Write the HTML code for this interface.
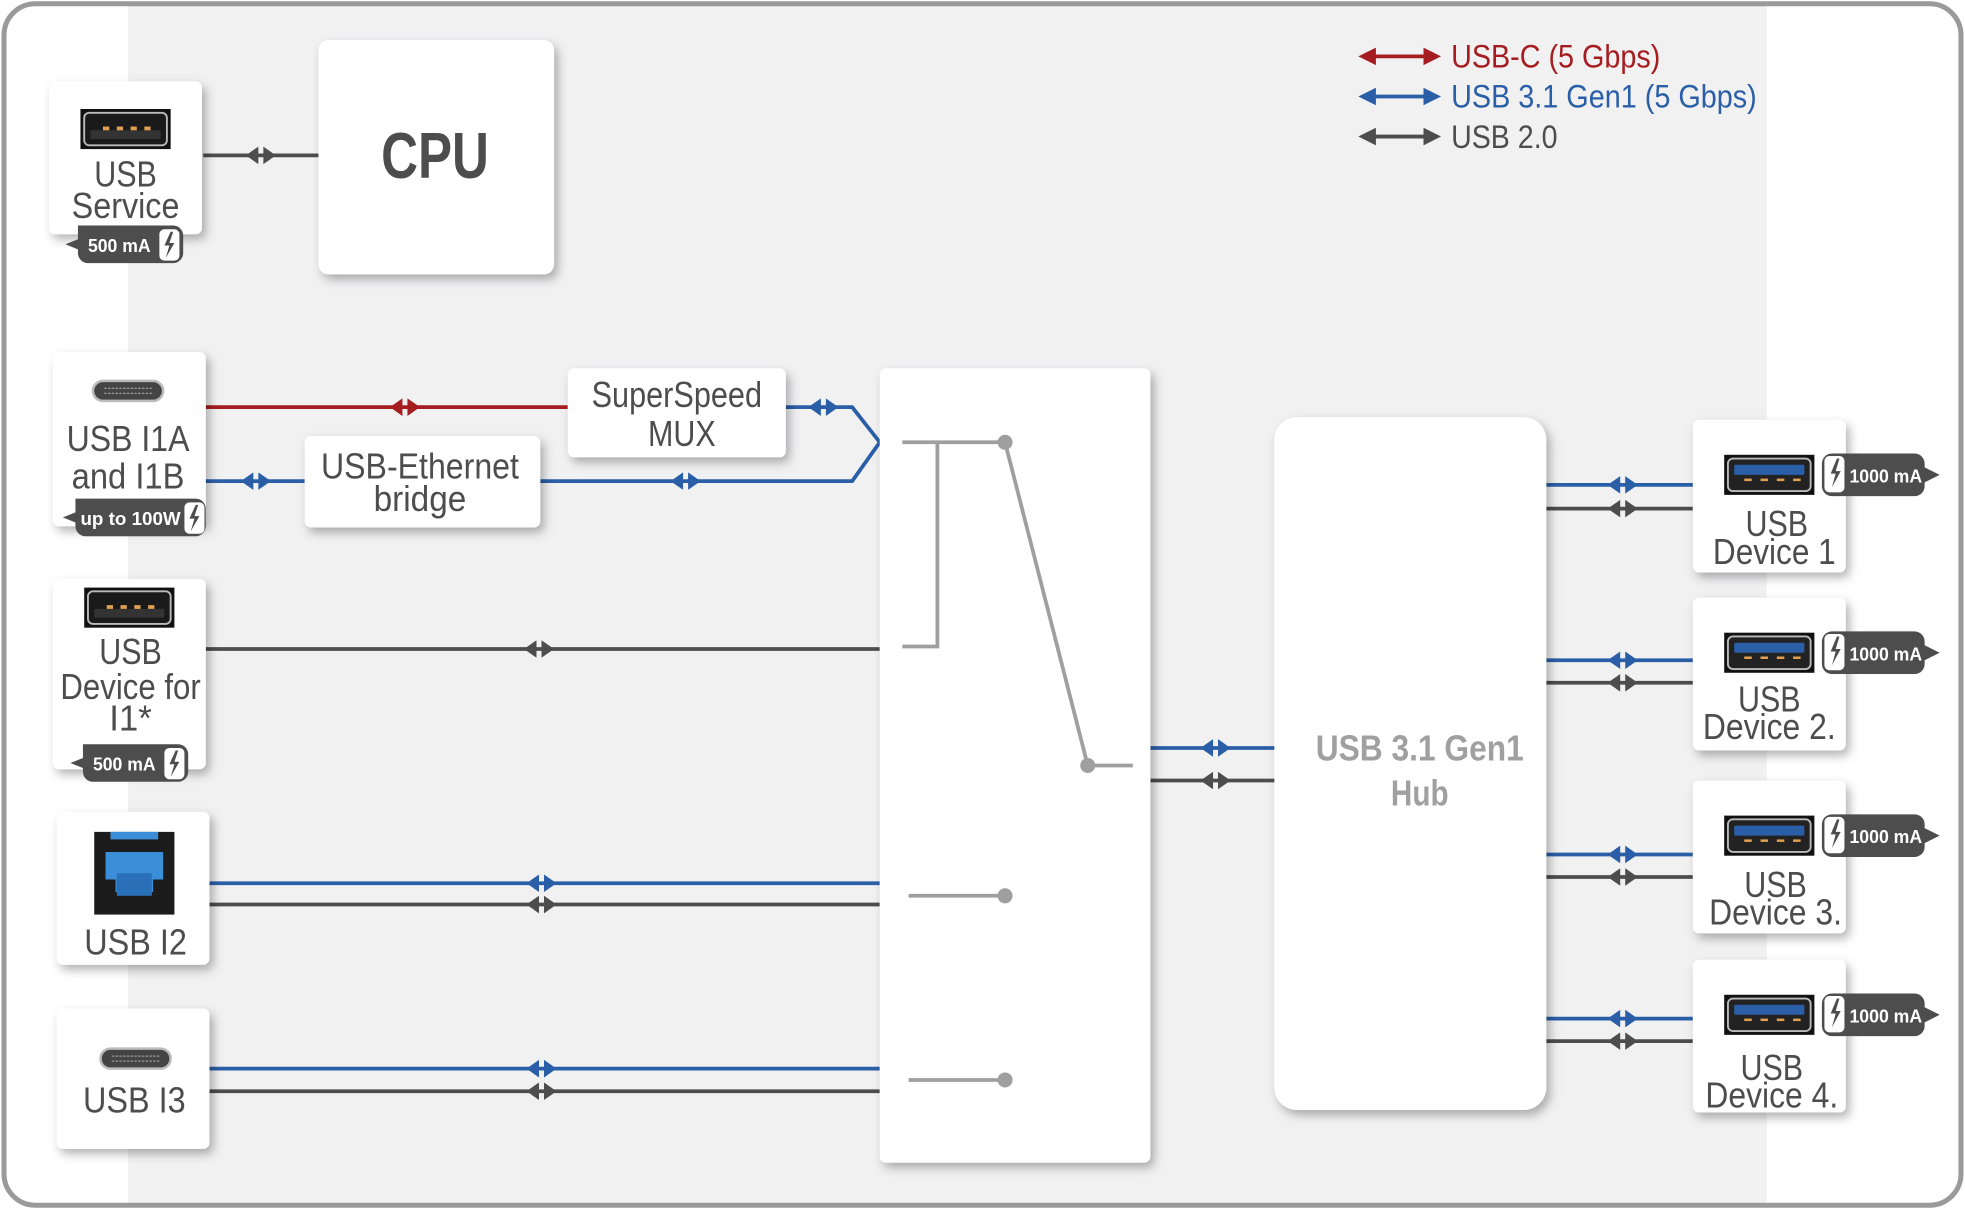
<!DOCTYPE html>
<html><head><meta charset="utf-8"><style>
html,body{margin:0;padding:0;background:#fff;}
svg{display:block;}
text{font-family:"Liberation Sans",sans-serif;}
</style></head><body>
<svg width="1965" height="1209" viewBox="0 0 1568 965" xmlns="http://www.w3.org/2000/svg">
<defs>
<filter id="sh" x="-20%" y="-20%" width="150%" height="150%"><feDropShadow dx="3" dy="4" stdDeviation="4" flood-color="#000" flood-opacity="0.3"/></filter>
<clipPath id="oc"><rect x="3" y="3" width="1562" height="959" rx="25"/></clipPath>
<g id="ar"><polygon points="-12,0 -2,-7 -2,7"/><polygon points="12,0 2,-7 2,7"/></g>
<g id="usba"><rect x="0" y="0" width="72" height="32" fill="#111"/><rect x="3" y="3" width="66" height="26" rx="4" fill="#222" stroke="#bbb" stroke-width="1.5"/><rect x="8" y="8" width="56" height="8" rx="1" fill="#2a5fa8"/><g fill="#e0a050"><rect x="16" y="19" width="6" height="2"/><rect x="29" y="19" width="6" height="2"/><rect x="42" y="19" width="6" height="2"/><rect x="55" y="19" width="6" height="2"/></g></g>
<g id="usbk"><rect x="0" y="0" width="72" height="32" fill="#111"/><rect x="3" y="3" width="66" height="26" rx="4" fill="#1a1a1a" stroke="#bbb" stroke-width="1.5"/><rect x="8" y="17" width="56" height="7" rx="1" fill="#333"/><g fill="#e0a050"><rect x="18" y="14" width="5" height="3"/><rect x="29" y="14" width="5" height="3"/><rect x="40" y="14" width="5" height="3"/><rect x="51" y="14" width="5" height="3"/></g></g>
<g id="usbc"><rect x="0" y="0" width="56" height="16" rx="8" fill="#444" stroke="#bbb" stroke-width="2"/><line x1="9" y1="6" x2="47" y2="6" stroke="#999" stroke-dasharray="2,1"/><line x1="9" y1="10" x2="47" y2="10" stroke="#999" stroke-dasharray="2,1"/></g>
</defs>
<rect width="1568" height="965" fill="#fff"/>
<g clip-path="url(#oc)">
<rect x="102" y="0" width="1308" height="965" fill="#f1f1f2"/>
</g>
<rect x="3" y="3" width="1562" height="959" rx="25" fill="none" stroke="#9a9a9a" stroke-width="4"/>

<!-- lines -->
<g stroke-width="3" fill="none">
<line x1="162" y1="124" x2="254" y2="124" stroke="#4d4d4d"/>
<line x1="164" y1="325" x2="453" y2="325" stroke="#a51d21"/>
<polyline points="627,325 680,325 702,353" stroke="#2a5fa8"/>
<line x1="164" y1="384" x2="243" y2="384" stroke="#2a5fa8"/>
<polyline points="431,384 680,384 702,353" stroke="#2a5fa8"/>
<line x1="164" y1="518" x2="702" y2="518" stroke="#4d4d4d"/>
<line x1="167" y1="705" x2="702" y2="705" stroke="#2a5fa8"/>
<line x1="167" y1="722" x2="702" y2="722" stroke="#4d4d4d"/>
<line x1="167" y1="853" x2="702" y2="853" stroke="#2a5fa8"/>
<line x1="167" y1="871" x2="702" y2="871" stroke="#4d4d4d"/>
<line x1="918" y1="597" x2="1017" y2="597" stroke="#2a5fa8"/>
<line x1="918" y1="623" x2="1017" y2="623" stroke="#4d4d4d"/>
<line x1="1234" y1="387" x2="1351" y2="387" stroke="#2a5fa8"/>
<line x1="1234" y1="406" x2="1351" y2="406" stroke="#4d4d4d"/>
<line x1="1234" y1="527" x2="1351" y2="527" stroke="#2a5fa8"/>
<line x1="1234" y1="545" x2="1351" y2="545" stroke="#4d4d4d"/>
<line x1="1234" y1="682" x2="1351" y2="682" stroke="#2a5fa8"/>
<line x1="1234" y1="700" x2="1351" y2="700" stroke="#4d4d4d"/>
<line x1="1234" y1="813" x2="1351" y2="813" stroke="#2a5fa8"/>
<line x1="1234" y1="831" x2="1351" y2="831" stroke="#4d4d4d"/>
</g>
<g fill="#4d4d4d">
<use href="#ar" x="208" y="124"/><use href="#ar" x="430" y="518"/><use href="#ar" x="432" y="722"/><use href="#ar" x="432" y="871"/>
<use href="#ar" x="970" y="623"/><use href="#ar" x="1295" y="406"/><use href="#ar" x="1295" y="545"/><use href="#ar" x="1295" y="700"/><use href="#ar" x="1295" y="831"/>
</g>
<g fill="#2a5fa8">
<use href="#ar" x="657" y="325"/><use href="#ar" x="204" y="384"/><use href="#ar" x="547" y="384"/><use href="#ar" x="432" y="705"/><use href="#ar" x="432" y="853"/>
<use href="#ar" x="970" y="597"/><use href="#ar" x="1295" y="387"/><use href="#ar" x="1295" y="527"/><use href="#ar" x="1295" y="682"/><use href="#ar" x="1295" y="813"/>
</g>
<use href="#ar" x="323" y="325" fill="#a51d21"/>

<!-- boxes -->
<g fill="#fff" filter="url(#sh)">
<rect x="39" y="65" width="122" height="122" rx="5"/>
<rect x="254" y="32" width="188" height="187" rx="8"/>
<rect x="42" y="281" width="122" height="139" rx="5"/>
<rect x="453" y="294" width="174" height="71" rx="5"/>
<rect x="243" y="348" width="188" height="73" rx="5"/>
<rect x="42" y="462" width="122" height="152" rx="5"/>
<rect x="45" y="648" width="122" height="122" rx="5"/>
<rect x="45" y="805" width="122" height="112" rx="5"/>
<rect x="702" y="294" width="216" height="634" rx="5"/>
<rect x="1017" y="333" width="217" height="553" rx="18"/>
<rect x="1351" y="335" width="122" height="122" rx="5"/>
<rect x="1351" y="477" width="122" height="122" rx="5"/>
<rect x="1351" y="623" width="122" height="122" rx="5"/>
<rect x="1351" y="766" width="122" height="122" rx="5"/>
</g>

<!-- switch -->
<g stroke="#9f9f9f" stroke-width="3" fill="none">
<line x1="720" y1="353" x2="802" y2="353"/>
<polyline points="748,353 748,516 720,516"/>
<line x1="802" y1="353" x2="868" y2="611"/>
<line x1="868" y1="611" x2="904" y2="611"/>
<line x1="725" y1="715" x2="802" y2="715"/>
<line x1="725" y1="862" x2="802" y2="862"/>
</g>
<g fill="#9f9f9f"><circle cx="802" cy="353" r="6"/><circle cx="868" cy="611" r="6"/><circle cx="802" cy="715" r="6"/><circle cx="802" cy="862" r="6"/></g>

<!-- icons -->
<use href="#usbk" x="64" y="87"/>
<use href="#usbc" x="74" y="304"/>
<use href="#usbk" x="67" y="469"/>
<use href="#usbc" x="80" y="837"/>
<g><rect x="75" y="664" width="64" height="66" fill="#1c1c1c"/><rect x="88" y="664" width="38" height="6" fill="#3a8fd8"/><path d="M84 680 h46 v22 h-8 v10 h-30 v-10 h-8z" fill="#3a8fd8"/><rect x="93" y="697" width="28" height="18" fill="#2a70b8"/></g>
<use href="#usba" x="1376" y="363"/>
<use href="#usba" x="1376" y="505"/>
<use href="#usba" x="1376" y="651"/>
<use href="#usba" x="1376" y="794"/>

<!-- badges -->
<g fill="#4d4d4d">
<path d="M62 180 h76 a8 8 0 0 1 8 8 v14 a8 8 0 0 1 -8 8 h-68 a8 8 0 0 1 -8 -8 v-3 l-10 -4 l10 -4z"/>
<path d="M60 398 h96 a8 8 0 0 1 8 8 v14 a8 8 0 0 1 -8 8 h-88 a8 8 0 0 1 -8 -8 v-3 l-10 -4 l10 -4z"/>
<path d="M66 594 h76 a8 8 0 0 1 8 8 v14 a8 8 0 0 1 -8 8 h-68 a8 8 0 0 1 -8 -8 v-3 l-10 -4 l10 -4z"/>
</g>
<g fill="#fff">
<rect x="127" y="183" width="16" height="25" rx="4"/><rect x="147" y="401" width="16" height="25" rx="4"/><rect x="131" y="597" width="16" height="25" rx="4"/>
</g>
<g fill="#4d4d4d"><path d="M136 185 l-5 11 h4 l-3 10 l7 -12 h-4 l3 -9z"/><path d="M156 403 l-5 11 h4 l-3 10 l7 -12 h-4 l3 -9z"/><path d="M140 599 l-5 11 h4 l-3 10 l7 -12 h-4 l3 -9z"/></g>
<g font-weight="bold" fill="#fff" font-size="15">
<text x="70" y="201" textLength="50" lengthAdjust="spacingAndGlyphs">500 mA</text>
<text x="64" y="419" textLength="80" lengthAdjust="spacingAndGlyphs">up to 100W</text>
<text x="74" y="615" textLength="50" lengthAdjust="spacingAndGlyphs">500 mA</text>
</g>
<g id="b1">
<path d="M1462 362 h66 a8 8 0 0 1 8 8 v3 l12 6 l-12 6 v3 a8 8 0 0 1 -8 8 h-66 a8 8 0 0 1 -8 -8 v-18 a8 8 0 0 1 8 -8z" fill="#4d4d4d"/>
<rect x="1456" y="364" width="16" height="29" rx="4" fill="#fff"/>
<path d="M1466 366 l-5 12 h4 l-3 11 l7 -13 h-4 l3 -10z" fill="#4d4d4d"/>
</g>
<use href="#b1" y="142"/><use href="#b1" y="288"/><use href="#b1" y="431"/>
<g font-weight="bold" fill="#fff" font-size="15">
<text x="1476" y="385" textLength="58" lengthAdjust="spacingAndGlyphs">1000 mA</text>
<text x="1476" y="527" textLength="58" lengthAdjust="spacingAndGlyphs">1000 mA</text>
<text x="1476" y="673" textLength="58" lengthAdjust="spacingAndGlyphs">1000 mA</text>
<text x="1476" y="816" textLength="58" lengthAdjust="spacingAndGlyphs">1000 mA</text>
</g>

<!-- texts -->
<g fill="#4d4d4d" font-size="29" text-anchor="middle">
<text x="100" y="149" textLength="50" lengthAdjust="spacingAndGlyphs">USB</text>
<text x="100" y="174" textLength="86" lengthAdjust="spacingAndGlyphs">Service</text>
<text x="102" y="360" textLength="98" lengthAdjust="spacingAndGlyphs">USB I1A</text>
<text x="102" y="390" textLength="90" lengthAdjust="spacingAndGlyphs">and I1B</text>
<text x="540" y="325" textLength="136" lengthAdjust="spacingAndGlyphs">SuperSpeed</text>
<text x="544" y="356" textLength="54" lengthAdjust="spacingAndGlyphs">MUX</text>
<text x="335" y="382" textLength="158" lengthAdjust="spacingAndGlyphs">USB-Ethernet</text>
<text x="335" y="408" textLength="74" lengthAdjust="spacingAndGlyphs">bridge</text>
<text x="104" y="530" textLength="50" lengthAdjust="spacingAndGlyphs">USB</text>
<text x="104" y="558" textLength="112" lengthAdjust="spacingAndGlyphs">Device for</text>
<text x="104" y="583" textLength="34" lengthAdjust="spacingAndGlyphs">I1*</text>
<text x="108" y="762" textLength="82" lengthAdjust="spacingAndGlyphs">USB I2</text>
<text x="107" y="888" textLength="82" lengthAdjust="spacingAndGlyphs">USB I3</text>
<text x="1418" y="428" textLength="50" lengthAdjust="spacingAndGlyphs">USB</text>
<text x="1416" y="450" textLength="98" lengthAdjust="spacingAndGlyphs">Device 1</text>
<text x="1412" y="568" textLength="50" lengthAdjust="spacingAndGlyphs">USB</text>
<text x="1412" y="590" textLength="106" lengthAdjust="spacingAndGlyphs">Device 2.</text>
<text x="1417" y="716" textLength="50" lengthAdjust="spacingAndGlyphs">USB</text>
<text x="1417" y="738" textLength="106" lengthAdjust="spacingAndGlyphs">Device 3.</text>
<text x="1414" y="862" textLength="50" lengthAdjust="spacingAndGlyphs">USB</text>
<text x="1414" y="884" textLength="106" lengthAdjust="spacingAndGlyphs">Device 4.</text>
</g>
<text x="347" y="142" font-size="52" font-weight="bold" fill="#4d4d4d" text-anchor="middle" textLength="86" lengthAdjust="spacingAndGlyphs">CPU</text>
<g fill="#a0a0a0" font-size="29" font-weight="bold" text-anchor="middle">
<text x="1133" y="607" textLength="166" lengthAdjust="spacingAndGlyphs">USB 3.1 Gen1</text>
<text x="1133" y="643" textLength="46" lengthAdjust="spacingAndGlyphs">Hub</text>
</g>

<!-- legend -->
<g stroke-width="3">
<line x1="1090" y1="45" x2="1144" y2="45" stroke="#a51d21"/>
<line x1="1090" y1="77" x2="1144" y2="77" stroke="#2a5fa8"/>
<line x1="1090" y1="109" x2="1144" y2="109" stroke="#4d4d4d"/>
</g>
<polygon points="1084,45 1098,38 1098,52" fill="#a51d21"/><polygon points="1150,45 1136,38 1136,52" fill="#a51d21"/>
<polygon points="1084,77 1098,70 1098,84" fill="#2a5fa8"/><polygon points="1150,77 1136,70 1136,84" fill="#2a5fa8"/>
<polygon points="1084,109 1098,102 1098,116" fill="#4d4d4d"/><polygon points="1150,109 1136,102 1136,116" fill="#4d4d4d"/>
<g font-size="26">
<text x="1158" y="54" fill="#a51d21" textLength="167" lengthAdjust="spacingAndGlyphs">USB-C (5 Gbps)</text>
<text x="1158" y="86" fill="#2a5fa8" textLength="244" lengthAdjust="spacingAndGlyphs">USB 3.1 Gen1 (5 Gbps)</text>
<text x="1158" y="118" fill="#4d4d4d" textLength="85" lengthAdjust="spacingAndGlyphs">USB 2.0</text>
</g>
</svg>
</body></html>
